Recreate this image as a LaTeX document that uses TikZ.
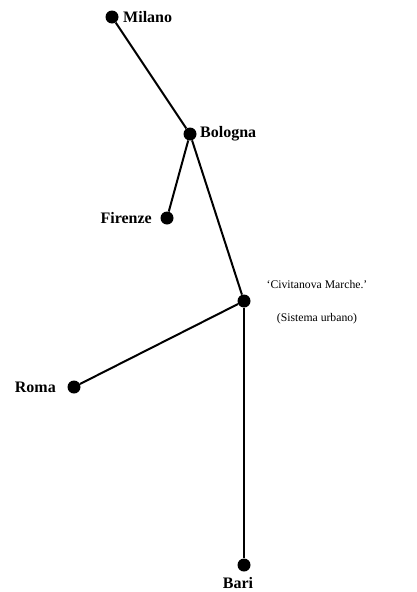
\documentclass[tikz,border=0pt]{standalone}
\usepackage{fontspec}
\setmainfont{Liberation Serif}
\begin{document}
\begin{tikzpicture}[x=1pt,y=-1pt,
  dot/.style={circle,fill=black,inner sep=0pt,minimum size=13pt},
  city/.style={font=\fontsize{16}{19}\selectfont\bfseries,inner sep=0pt},
  note/.style={font=\fontsize{11.7}{14}\selectfont,inner sep=0pt},
  link/.style={line width=2pt}]
\useasboundingbox (0,0) rectangle (417,592);
\node[dot] (milano) at (112,17) {};
\node[dot] (bologna) at (190,134) {};
\node[dot] (firenze) at (167,218) {};
\node[dot] (civ) at (244,301) {};
\node[dot] (roma) at (74,387) {};
\node[dot] (bari) at (244,565) {};
\draw[link] (milano) -- (bologna);
\draw[link] (bologna) -- (firenze);
\draw[link] (bologna) -- (civ);
\draw[link] (civ) -- (roma);
\draw[link] (civ) -- (bari);
\node[city,anchor=west] (lmilano) at (123,17) {Milano};
\node[city,anchor=west] (lbologna) at (200,134) {Bologna};
\node[city,anchor=east] (lfirenze) at (152,218) {Firenze};
\node[city,anchor=east] (lroma) at (56,387) {Roma};
\node[city,anchor=base] (lbari) at (238,588) {Bari};
\node[note] (lciv) at (317,285) {‘Civitanova Marche.’};
\node[note] (lsis) at (317,319) {(Sistema urbano)};
\end{tikzpicture}
\end{document}
